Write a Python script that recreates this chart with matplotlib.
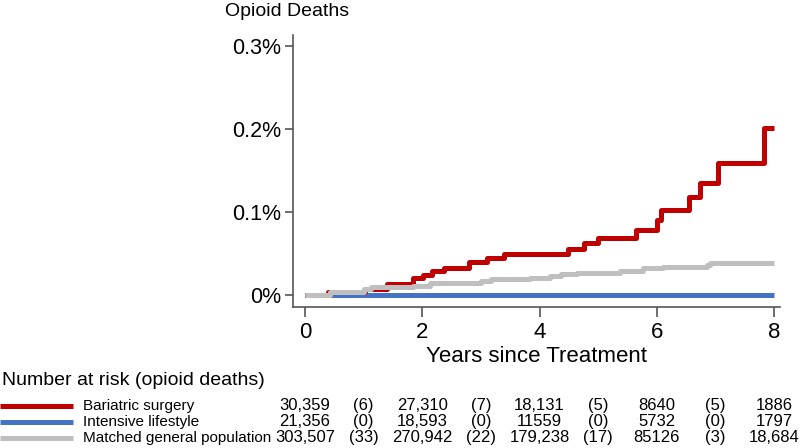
import matplotlib.pyplot as plt
from matplotlib.transforms import blended_transform_factory

plt.rcParams['font.family'] = ['Liberation Sans', 'DejaVu Sans']

# cumulative opioid deaths (%), step changes
bar_t = [0, 0.40, 1.02, 1.39, 1.85, 2.02, 2.16, 2.37, 2.79, 3.10, 3.40, 4.48, 4.75, 4.99,
         5.65, 6.00, 6.07, 6.54, 6.74, 7.04, 7.82, 8.0]
bar_y = [0, 0.003, 0.007, 0.013, 0.020, 0.024, 0.029, 0.033, 0.040, 0.044, 0.049, 0.055,
         0.062, 0.069, 0.078, 0.090, 0.102, 0.118, 0.135, 0.159, 0.201, 0.201]

life_t = [0, 8.0]
life_y = [0, 0]

gen_t = [0, 0.43, 1.0, 1.13, 1.85, 2.13, 3.0, 3.17, 3.84, 4.18, 4.36, 4.64, 5.37, 5.77,
         6.11, 6.85, 6.91, 8.0]
gen_y = [0, 0.003, 0.007, 0.009, 0.011, 0.014, 0.017, 0.019, 0.020, 0.023, 0.025, 0.027,
         0.029, 0.032, 0.034, 0.036, 0.038, 0.038]

groups = ["Bariatric surgery", "Intensive lifestyle", "Matched general population"]
colors = ["#C00000", "#4472C4", "#BFBFBF"]
at_risk = [["30,359", "27,310", "18,131", "8640", "1886"],
           ["21,356", "18,593", "11559", "5732", "1797"],
           ["303,507", "270,942", "179,238", "85126", "18,684"]]
deaths = [["(6)", "(7)", "(5)", "(5)"],
          ["(0)", "(0)", "(0)", "(0)"],
          ["(33)", "(22)", "(17)", "(3)"]]
risk_years = [0, 2, 4, 6, 8]
death_years = [1, 3, 5, 7]

fig = plt.figure(figsize=(8, 4.48), dpi=100)
ax = fig.add_axes([0.3666, 0.3147, 0.6084, 0.6072])

ax.plot(life_t, life_y, drawstyle="steps-post", color=colors[1], lw=3.6, solid_capstyle="butt")
ax.plot(bar_t, bar_y, drawstyle="steps-post", color=colors[0], lw=3.6, solid_capstyle="butt")
ax.plot(gen_t, gen_y, drawstyle="steps-post", color=colors[2], lw=3.6, solid_capstyle="butt")

ax.set_xlim(-0.2, 8.1)
ax.set_ylim(-0.0145, 0.313)
ax.set_xticks([0, 2, 4, 6, 8])
ax.set_yticks([0, 0.1, 0.2, 0.3])
ax.set_yticklabels(["0%", "0.1%", "0.2%", "0.3%"])
for s in ["top", "right"]:
    ax.spines[s].set_visible(False)
for s in ["left", "bottom"]:
    ax.spines[s].set_color("#555555")
    ax.spines[s].set_linewidth(1.2)
ax.tick_params(axis="y", labelsize=15.5, length=6, color="#555555", width=1.2, pad=3)
ax.tick_params(axis="x", labelsize=16, length=7, color="#555555", width=1.2, pad=4)
ax.set_xlabel("Years since Treatment", fontsize=16, labelpad=2)

fig.text(225 / 800, 1 - 12 / 448, "Opioid Deaths", fontsize=14, va="center", ha="left")

# number at risk table
fig.text(2 / 800, 1 - 380 / 448, "Number at risk (opioid deaths)", fontsize=14, va="center")
tr = blended_transform_factory(ax.transData, fig.transFigure)
row_y = [405.5, 421.5, 437.5]
for i, g in enumerate(groups):
    yf = 1 - row_y[i] / 448
    fig.add_artist(plt.Line2D([0, 73 / 800], [yf, yf], color=colors[i], lw=3.6,
                              solid_capstyle="butt", transform=fig.transFigure))
    fig.text(83 / 800, yf, g, fontsize=11, va="center")
    for x, v in zip(risk_years, at_risk[i]):
        fig.text(x, yf, v, fontsize=12, va="center", ha="center", transform=tr)
    for x, v in zip(death_years, deaths[i]):
        fig.text(x, yf, v, fontsize=12, va="center", ha="center", transform=tr)

fig.savefig("out.png", dpi=100)
